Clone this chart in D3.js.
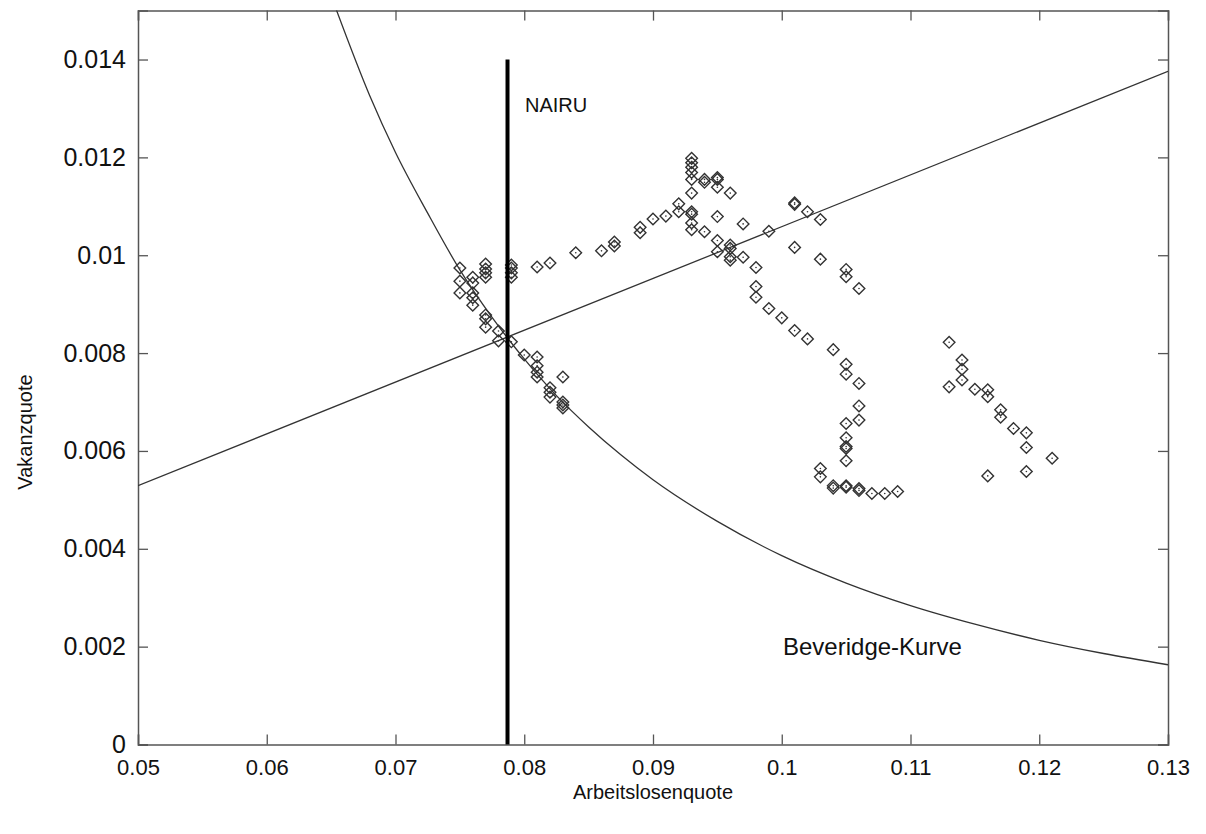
<!DOCTYPE html>
<html><head><meta charset="utf-8">
<script src="https://cdn.jsdelivr.net/npm/d3@7"></script>
<style>body{margin:0;background:#fff}svg{display:block}text{font-family:"Liberation Sans",Arial,sans-serif}</style>
</head><body><svg id="c" width="1206" height="834"></svg>
<script>
// unemployment rate (Arbeitslosenquote) and vacancy rate (Vakanzquote) observations
const obsU = [0.075,0.075,0.075,0.076,0.076,0.076,0.076,0.076,0.077,0.077,0.077,0.077,0.077,0.077,0.077,0.078,0.078,0.079,0.079,0.079,0.079,0.079,0.080,0.081,0.081,0.081,0.081,0.082,0.082,0.082,0.083,0.083,0.083,0.083,0.081,0.082,0.084,0.086,0.087,0.087,0.089,0.089,0.090,0.091,0.092,0.092,0.093,0.093,0.093,0.093,0.093,0.093,0.093,0.093,0.093,0.093,0.094,0.094,0.094,0.095,0.095,0.095,0.095,0.095,0.095,0.096,0.096,0.096,0.096,0.096,0.097,0.097,0.098,0.098,0.098,0.099,0.099,0.100,0.101,0.101,0.101,0.101,0.102,0.102,0.103,0.103,0.104,0.105,0.105,0.106,0.105,0.105,0.106,0.106,0.106,0.105,0.105,0.105,0.105,0.105,0.103,0.103,0.104,0.104,0.105,0.105,0.106,0.106,0.107,0.108,0.109,0.113,0.114,0.114,0.114,0.113,0.115,0.116,0.116,0.117,0.117,0.118,0.119,0.119,0.121,0.119,0.116];
const obsV = [0.00974,0.00947,0.00923,0.00955,0.00943,0.00923,0.00913,0.00898,0.00982,0.00972,0.00964,0.00955,0.00878,0.00870,0.00853,0.00845,0.00825,0.00980,0.00974,0.00964,0.00955,0.00823,0.00796,0.00792,0.00774,0.00761,0.00751,0.00729,0.00720,0.00710,0.00751,0.00700,0.00694,0.00688,0.00976,0.00984,0.01005,0.01009,0.01027,0.01019,0.01057,0.01046,0.01074,0.01080,0.01105,0.01089,0.01198,0.01189,0.01180,0.01169,0.01155,0.01127,0.01089,0.01084,0.01066,0.01052,0.01155,0.01149,0.01048,0.01159,0.01155,0.01139,0.01079,0.01030,0.01007,0.01127,0.01021,0.01014,0.00997,0.00990,0.01064,0.00996,0.00975,0.00936,0.00914,0.01049,0.00891,0.00872,0.01107,0.01104,0.01016,0.00846,0.01089,0.00829,0.01073,0.00992,0.00807,0.00971,0.00956,0.00932,0.00777,0.00757,0.00738,0.00692,0.00663,0.00656,0.00627,0.00609,0.00605,0.00580,0.00564,0.00547,0.00529,0.00524,0.00529,0.00526,0.00523,0.00519,0.00513,0.00513,0.00517,0.00822,0.00786,0.00767,0.00745,0.00731,0.00726,0.00725,0.00711,0.00684,0.00669,0.00646,0.00637,0.00607,0.00585,0.00558,0.00549];
// Beveridge curve
const bevU = [0.0654,0.068,0.070,0.0725,0.075,0.0775,0.080,0.0825,0.085,0.0875,0.090,0.095,0.100,0.105,0.110,0.115,0.120,0.125,0.130];
const bevV = [0.01502,0.01326,0.01210,0.01086,0.00970,0.00873,0.00788,0.00713,0.00649,0.00592,0.00541,0.00456,0.00386,0.00330,0.00284,0.00246,0.00213,0.00186,0.00163];
// straight line (endpoints)
const lineU = [0.05,0.13];
const lineV = [0.00529,0.01376];
// NAIRU
const nairuU = 0.0787;
const nairuV = [0,0.014];
const xTicks = [0.05,0.06,0.07,0.08,0.09,0.10,0.11,0.12,0.13];
const yTicks = [0,0.002,0.004,0.006,0.008,0.010,0.012,0.014];

const svg = d3.select("#c");
const L=138,R=1168,T=10.6,B=744.5;
const x = d3.scaleLinear().domain([0.05,0.13]).range([L,R]);
const y = d3.scaleLinear().domain([0,0.015]).range([B,T]);
const fmt = d3.format("~g");
const frameCol = "#555";

svg.append("defs").append("clipPath").attr("id","pc").append("rect")
  .attr("x",L).attr("y",T).attr("width",R-L).attr("height",B-T);

const axB = d3.axisBottom(x).tickValues(xTicks).tickSize(-10).tickPadding(15).tickFormat(fmt);
const axT = d3.axisTop(x).tickValues(xTicks).tickSize(-10).tickFormat("");
const axL = d3.axisLeft(y).tickValues(yTicks).tickSize(-10).tickPadding(12).tickFormat(fmt);
const axR = d3.axisRight(y).tickValues(yTicks).tickSize(-10).tickFormat("");
function style(g,fs){g.select(".domain").attr("stroke",frameCol).attr("stroke-width",1.5);
  g.selectAll(".tick line").attr("stroke",frameCol).attr("stroke-width",1.3);
  g.selectAll(".tick text").attr("fill","#111").style("font-size",fs+"px").style("font-family",'"Liberation Sans",Arial,sans-serif');}
svg.append("g").attr("transform",`translate(0,${B})`).call(axB).call(style,22);
svg.append("g").attr("transform",`translate(0,${T})`).call(axT).call(style,22);
svg.append("g").attr("transform",`translate(${L},0)`).call(axL).call(style,25);
svg.append("g").attr("transform",`translate(${R},0)`).call(axR).call(style,25);

const plot = svg.append("g").attr("clip-path","url(#pc)");
plot.append("path").datum(bevU.map((u,i)=>[u,bevV[i]]))
  .attr("d",d3.line().x(d=>x(d[0])).y(d=>y(d[1])).curve(d3.curveMonotoneX))
  .attr("fill","none").attr("stroke","#333").attr("stroke-width",1.3);
plot.append("path").datum(lineU.map((u,i)=>[u,lineV[i]]))
  .attr("d",d3.line().x(d=>x(d[0])).y(d=>y(d[1])))
  .attr("fill","none").attr("stroke","#333").attr("stroke-width",1.3);

const pts = plot.append("g");
obsU.forEach((u,i)=>{
  const cx=x(u), cy=y(obsV[i]), s=5.8;
  pts.append("path").attr("d",`M${cx},${cy-s}L${cx+s},${cy}L${cx},${cy+s}L${cx-s},${cy}Z`)
    .attr("fill","none").attr("stroke","#333").attr("stroke-width",1.4);
  pts.append("circle").attr("cx",cx).attr("cy",cy).attr("r",0.8).attr("fill","#333");
});

svg.append("line").attr("x1",x(nairuU)).attr("x2",x(nairuU)).attr("y1",y(nairuV[0])).attr("y2",y(nairuV[1]))
  .attr("stroke","#000").attr("stroke-width",4);

svg.append("text").attr("x",525).attr("y",112).style("font-size","20px").attr("fill","#111").text("NAIRU");
svg.append("text").attr("x",783).attr("y",655).style("font-size","24px").attr("fill","#111").text("Beveridge-Kurve");
svg.append("text").attr("x",(L+R)/2).attr("y",799).attr("text-anchor","middle").style("font-size","20px").attr("fill","#111").text("Arbeitslosenquote");
svg.append("text").attr("transform","translate(32,432) rotate(-90)").attr("text-anchor","middle").style("font-size","20px").attr("fill","#111").text("Vakanzquote");
</script></body></html>
